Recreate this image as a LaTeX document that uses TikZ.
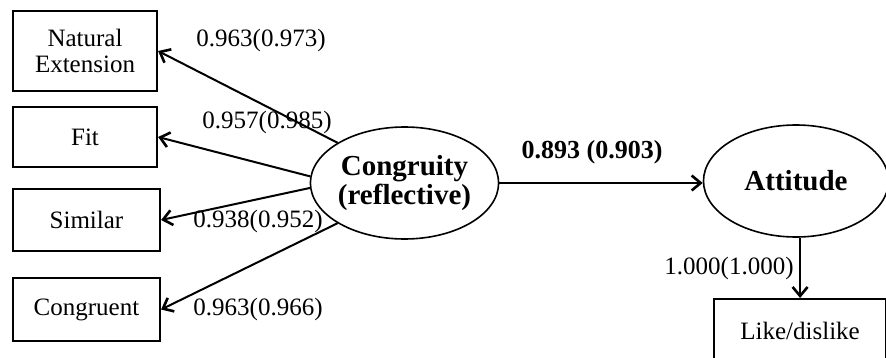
\documentclass[tikz,border=0pt]{standalone}
\usepackage{fontspec}
\setmainfont{Liberation Serif}
\usetikzlibrary{shapes.geometric,arrows.meta}
\begin{document}
\begin{tikzpicture}[x=1pt,y=-1pt,
  indicator/.style={draw,line width=2.2pt,minimum width=144pt,minimum height=60pt,
    inner sep=0pt,align=center,font=\fontsize{25}{27}\selectfont},
  latent/.style={draw,ellipse,line width=1.6pt,minimum width=185pt,minimum height=112pt,
    inner sep=0pt,align=center,font=\fontsize{29}{31}\selectfont\bfseries},
  path/.style={line width=2pt,-{Straight Barb[length=9pt,width=15pt,line width=2.6pt]}},
  coef/.style={font=\fontsize{25}{27}\selectfont,inner sep=0pt}]
  \useasboundingbox (0,0) rectangle (886,358);

  % indicators of the reflective construct
  \node[indicator,minimum height=80pt] (nat) at (85,51) {Natural\\[-1pt]Extension};
  \node[indicator] (fit) at (85,137) {Fit};
  \node[indicator,minimum width=147pt,minimum height=62pt] (sim) at (86.5,220) {Similar};
  \node[indicator,minimum width=147pt,minimum height=63pt] (con) at (86.5,309.5) {Congruent};

  % latent variables
  \node[latent] (cgr) at (404.5,183) {Congruity\\[-2pt](reflective)};
  \node[latent] (att) at (796,181) {Attitude};

  % single indicator of attitude
  \node[indicator,minimum width=172pt,minimum height=64pt,anchor=north west] (lik) at (713,298) {Like/dislike};

  % loadings
  \draw[path] (cgr.149) -- (nat.east);
  \draw[path] (cgr.176) -- (fit.east);
  \draw[path] (cgr.183) -- (sim.east);
  \draw[path] (cgr.211) -- (con.east);
  \draw[path] (cgr.east) -- (att.west |- cgr.east);
  \draw[path] (att.south -| lik.north) -- (lik.north);

  % coefficient labels
  \node[coef] (l1) at (261,40) {0.963(0.973)};
  \node[coef] (l2) at (267,122) {0.957(0.985)};
  \node[coef] (l3) at (258,221) {0.938(0.952)};
  \node[coef] (l4) at (258,309) {0.963(0.966)};
  \node[coef,font=\fontsize{26}{28}\selectfont\bfseries] (l5) at (592,152) {0.893 (0.903)};
  \node[coef] (l6) at (729,268) {1.000(1.000)};
\end{tikzpicture}
\end{document}
